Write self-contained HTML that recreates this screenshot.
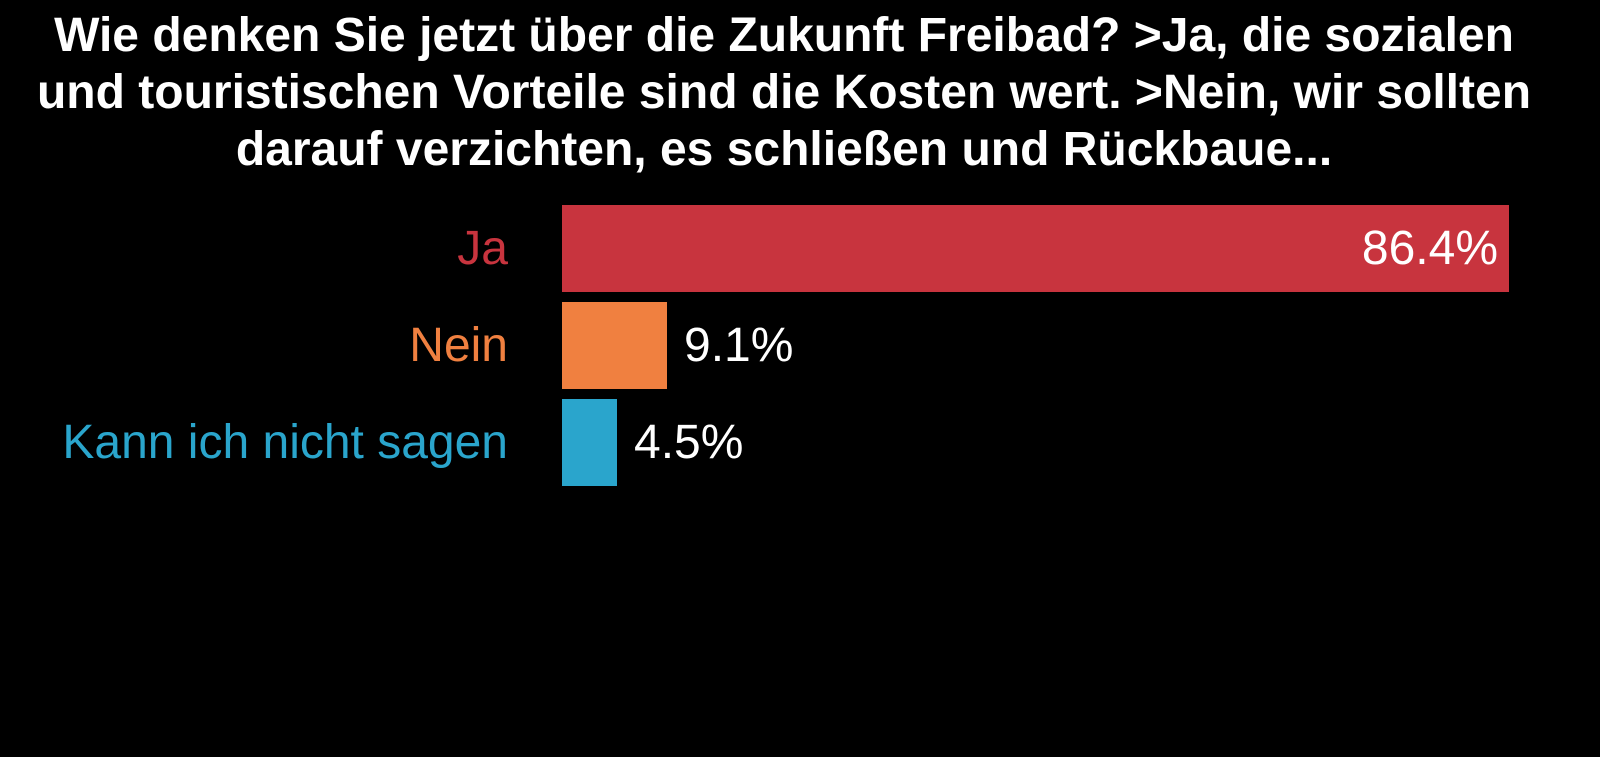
<!DOCTYPE html>
<html><head><meta charset="utf-8"><style>
html,body{margin:0;padding:0;background:#000;}
body{width:1600px;height:757px;position:relative;overflow:hidden;font-family:"Liberation Sans",sans-serif;}
.title{position:absolute;left:0;width:1568px;top:7px;text-align:center;color:#fff;font-weight:bold;font-size:48px;line-height:57px;}
.bar{position:absolute;left:562px;height:87px;}
.lab{position:absolute;right:1092px;font-size:48px;line-height:87px;white-space:nowrap;}
.val{position:absolute;font-size:48px;line-height:87px;color:#fff;white-space:nowrap;}
</style></head><body>
<div class="title">Wie denken Sie jetzt über die Zukunft Freibad? &gt;Ja, die sozialen<br>und touristischen Vorteile sind die Kosten wert. &gt;Nein, wir sollten<br>darauf verzichten, es schließen und Rückbaue...</div>
<div class="bar" style="top:205px;width:947px;background:#c8343e"></div>
<div class="bar" style="top:302px;width:105px;background:#f08040"></div>
<div class="bar" style="top:399px;width:55px;background:#2aa5cc"></div>
<div class="lab" style="top:205px;color:#c8343e">Ja</div>
<div class="lab" style="top:302px;color:#f08040">Nein</div>
<div class="lab" style="top:399px;color:#2aa5cc">Kann ich nicht sagen</div>
<div class="val" style="top:205px;right:102px">86.4%</div>
<div class="val" style="top:302px;left:684px">9.1%</div>
<div class="val" style="top:399px;left:634px">4.5%</div>
</body></html>
